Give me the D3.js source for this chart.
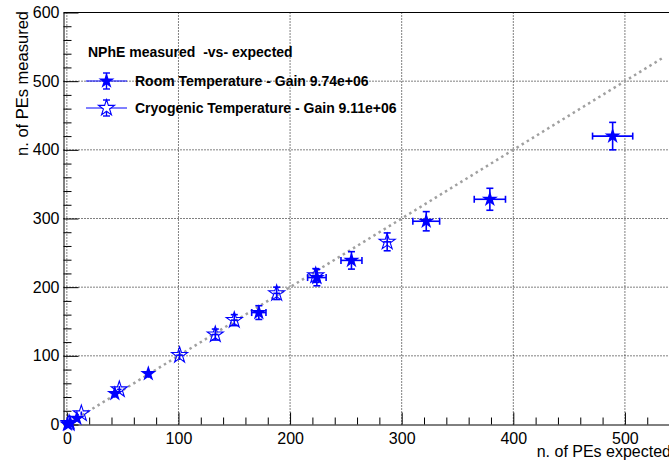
<!DOCTYPE html>
<html>
<head>
<meta charset="utf-8">
<script src="https://cdn.jsdelivr.net/npm/d3@7"></script>
<style>
  body { margin: 0; background: white; }
  text { font-family: "Liberation Sans", Arial, Helvetica, sans-serif; }
</style>
</head>
<body>
<script>
const width = 669, height = 462

// Room temperature (filled stars)
const roomX  = [0.5, 3, 9, 43, 73, 172, 224, 255, 322, 379, 489]
const roomY  = [0.5, 2, 9, 45, 74, 163, 214, 239, 296, 328, 420]
const roomEX = [0.1, 0.2, 0.4, 1.6, 2.7, 6.4, 8.3, 9.4, 12, 14, 18]
const roomEY = [1, 2, 3, 6, 6, 10, 12, 12.7, 14, 16, 20]

// Cryogenic temperature (open stars)
const cryoX  = [2, 13, 47, 101, 133, 150, 188, 223, 287]
const cryoY  = [2, 16, 51, 101, 131, 152, 191, 217, 266]
const cryoEX = [0.2, 0.6, 2, 3, 3, 3, 3, 3, 3.5]
const cryoEY = [1, 3, 5, 7, 8, 8, 9, 10, 13]

const xMajor = [0, 100, 200, 300, 400, 500]
const yMajor = [0, 100, 200, 300, 400, 500, 600]
const diagonal = [0, 533]

const legendTitle = 'NPhE measured  -vs- expected'
const legendLabels = ['Room Temperature - Gain 9.74e+06', 'Cryogenic Temperature - Gain 9.11e+06']

const blue = '#0000ff'

const svg = d3.select('body').append('svg')
    .attr('width', width)
    .attr('height', height)

const xScale = d3.scaleLinear()
    .domain([-3, 539.5])
    .range([63.5, 669])

const yScale = d3.scaleLinear()
    .domain([0, 600])
    .range([424.5, 12.5])

// grid
svg.append('g').selectAll('line').data(xMajor)
    .enter().append('line')
    .attr('x1', d => xScale(d)).attr('x2', d => xScale(d))
    .attr('y1', yScale(0)).attr('y2', yScale(600))
    .attr('stroke', '#000').attr('stroke-dasharray', '1,2')

svg.append('g').selectAll('line').data(yMajor.filter(d => d > 0 && d < 600))
    .enter().append('line')
    .attr('x1', xScale(-3)).attr('x2', width)
    .attr('y1', d => yScale(d)).attr('y2', d => yScale(d))
    .attr('stroke', '#000').attr('stroke-dasharray', '1,2')

// y = x reference line
svg.append('path')
    .datum(diagonal)
    .attr('d', d3.line().x(d => xScale(d)).y(d => yScale(d)))
    .attr('stroke', '#a0a0a0')
    .attr('stroke-width', 2.5)
    .attr('stroke-dasharray', '2.5,3.5')
    .attr('fill', 'none')

// axes (ROOT style, ticks inside)
const xMinor = d3.range(20, 540, 20).filter(d => d % 100 != 0)
const yMinor = d3.range(20, 600, 20).filter(d => d % 100 != 0)

const xAxis = svg.append('g')
    .attr('transform', 'translate(0,' + yScale(0) + ')')
    .call(d3.axisBottom(xScale).tickValues(xMajor).tickSize(-12).tickSizeOuter(0).tickPadding(5).tickFormat(d3.format('d')))
svg.append('g')
    .attr('transform', 'translate(0,' + yScale(0) + ')')
    .call(d3.axisBottom(xScale).tickValues(xMinor).tickSize(-7).tickSizeOuter(0).tickFormat(''))
    .select('.domain').remove()

const yAxis = svg.append('g')
    .attr('transform', 'translate(' + xScale(-3) + ',0)')
    .call(d3.axisLeft(yScale).tickValues(yMajor).tickSize(-15).tickSizeOuter(0).tickPadding(4).tickFormat(d3.format('d')))
svg.append('g')
    .attr('transform', 'translate(' + xScale(-3) + ',0)')
    .call(d3.axisLeft(yScale).tickValues(yMinor).tickSize(-8).tickSizeOuter(0).tickFormat(''))
    .select('.domain').remove()

svg.selectAll('.tick text')
    .style('font-size', '16px')
    .style('font-family', '"Liberation Sans", Arial, sans-serif')
    .attr('fill', '#000')
xAxis.selectAll('.tick text').attr('dy', '0.9em')

// top frame
svg.append('line')
    .attr('x1', xScale(-3)).attr('x2', width)
    .attr('y1', yScale(600)).attr('y2', yScale(600))
    .attr('stroke', '#000')

// axis titles
svg.append('text')
    .attr('text-anchor', 'end')
    .attr('transform', 'translate(27.5,11)rotate(-90)')
    .style('font-size', '16.5px')
    .text('n. of PEs measured')

svg.append('text')
    .attr('text-anchor', 'end')
    .attr('x', 671)
    .attr('y', 457)
    .style('font-size', '16px')
    .text('n. of PEs expected')

// error bars
function errorBars(g, xs, ys, exs, eys) {
    const pts = xs.map((x, i) => ({x: x, y: ys[i], ex: exs[i], ey: eys[i]}))
    const cap = 3.5
    pts.forEach(p => {
        const cx = xScale(p.x), cy = yScale(p.y)
        const x0 = xScale(p.x - p.ex), x1 = xScale(p.x + p.ex)
        const y0 = yScale(p.y - p.ey), y1 = yScale(p.y + p.ey)
        const segs = [
            [x0, cy, x1, cy], [cx, y0, cx, y1]
        ]
        if (x1 - x0 > 10) segs.push([x0, cy - cap, x0, cy + cap], [x1, cy - cap, x1, cy + cap])
        if (y0 - y1 > 10) segs.push([cx - cap, y0, cx + cap, y0], [cx - cap, y1, cx + cap, y1])
        g.selectAll(null).data(segs).enter().append('line')
            .attr('x1', d => d[0]).attr('y1', d => d[1])
            .attr('x2', d => d[2]).attr('y2', d => d[3])
            .attr('stroke', blue).attr('stroke-width', 1.6)
    })
}

const star = d3.symbol().type(d3.symbolStar).size(80)

const room = svg.append('g')
errorBars(room, roomX, roomY, roomEX, roomEY)
room.selectAll('path').data(roomX.map((x, i) => [x, roomY[i]]))
    .enter().append('path')
    .attr('d', star)
    .attr('transform', d => 'translate(' + xScale(d[0]) + ',' + yScale(d[1]) + ')')
    .attr('fill', blue)

const cryo = svg.append('g')
errorBars(cryo, cryoX, cryoY, cryoEX, cryoEY)
cryo.selectAll('path').data(cryoX.map((x, i) => [x, cryoY[i]]))
    .enter().append('path')
    .attr('d', star)
    .attr('transform', d => 'translate(' + xScale(d[0]) + ',' + yScale(d[1]) + ')')
    .attr('fill', 'none')
    .attr('stroke', blue)
    .attr('stroke-width', 1.1)

// legend
const legend = svg.append('g')
legend.append('text')
    .attr('x', 88).attr('y', 57)
    .style('font-size', '14px')
    .style('font-weight', 'bold')
    .style('white-space', 'pre')
    .text(legendTitle)

legendLabels.forEach((label, i) => {
    const ly = 81 + i * 27
    legend.append('line')
        .attr('x1', 86).attr('x2', 127)
        .attr('y1', ly).attr('y2', ly)
        .attr('stroke', blue)
    legend.append('line')
        .attr('x1', 106.5).attr('x2', 106.5)
        .attr('y1', ly - 8).attr('y2', ly + 8)
        .attr('stroke', blue).attr('stroke-width', 1.4)
    legend.selectAll(null).data([ly - 8, ly + 8]).enter().append('line')
        .attr('x1', 103).attr('x2', 110)
        .attr('y1', d => d).attr('y2', d => d)
        .attr('stroke', blue).attr('stroke-width', 1.4)
    legend.append('path')
        .attr('d', star)
        .attr('transform', 'translate(106.5,' + ly + ')')
        .attr('fill', i == 0 ? blue : 'white')
        .attr('stroke', blue)
        .attr('stroke-width', i == 0 ? 0 : 1.1)
    legend.append('text')
        .attr('x', 135).attr('y', ly)
        .attr('dy', '0.35em')
        .style('font-size', '14px')
        .style('font-weight', 'bold')
        .text(label)
})
</script>
</body>
</html>
